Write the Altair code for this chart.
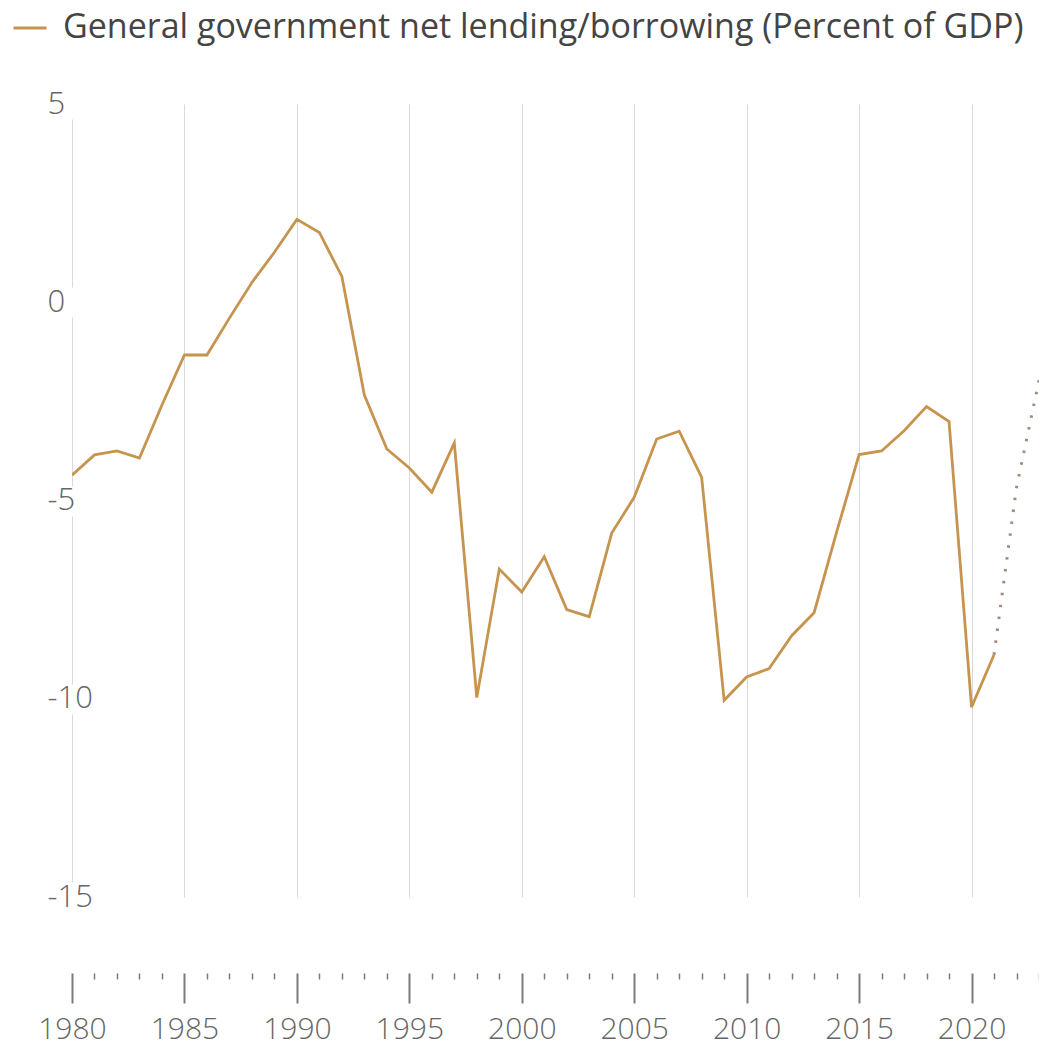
import altair as alt
import pandas as pd

SERIES = "General government net lending/borrowing (Percent of GDP)"

years = list(range(1980, 2022))
values = [
    -4.36, -3.85, -3.75, -3.93, -2.59, -1.33, -1.33, -0.40, 0.50, 1.26,
    2.09, 1.76, 0.65, -2.34, -3.70, -4.18, -4.79, -3.55, -9.97, -6.73,
    -7.31, -6.42, -7.75, -7.93, -5.82, -4.92, -3.45, -3.25, -4.42, -10.04,
    -9.45, -9.24, -8.41, -7.83, -5.80, -3.84, -3.75, -3.24, -2.63, -3.01,
    -10.21, -8.89,
]
proj_years = [2021, 2022, 2023]
proj_values = [-8.89, -4.67, -1.97]

x_ticks = list(range(1980, 2024))
y_ticks = [-15, -10, -5, 0, 5]

LINE = "#C6944F"
DOTS = "#A08A78"
FONT = "Open Sans"

hist = pd.DataFrame({"year": years, "value": values, "series": SERIES})
proj = pd.DataFrame({"year": proj_years, "value": proj_values})

x_scale = alt.Scale(domain=[1980, 2023], nice=False, zero=False)
y_scale = alt.Scale(domain=[-15, 5], nice=False, zero=False)

major = "datum.value % 5 === 0"

x_axis = alt.Axis(
    values=x_ticks,
    tickCount=len(x_ticks) + 10,
    labelExpr=f"{major} ? '' + datum.value : ''",
    orient="bottom",
    offset=76,
    domain=False,
    grid=True,
    gridColor="#d9d9d9",
    gridWidth=1,
    gridOpacity={"condition": {"test": major, "value": 1}, "value": 0},
    ticks=True,
    tickColor="#7a7a7a",
    tickWidth={"condition": {"test": major, "value": 2}, "value": 1.5},
    tickSize={"condition": {"test": major, "value": 30}, "value": 6},
    labelFont=FONT,
    labelFontSize=30,
    labelFontWeight=300,
    labelColor="#666666",
    labelPadding=11,
    labelOverlap=False,
    labelFlush=False,
    labelBaseline="top",
    title=None,
)

y_axis = alt.Axis(
    values=y_ticks,
    labelExpr="'' + datum.value",
    orient="left",
    offset=-6,
    domain=False,
    grid=False,
    ticks=True,
    tickColor="#ffffff",
    tickWidth=30,
    tickSize=30,
    labelAlign="left",
    labelBaseline="middle",
    labelPadding=1,
    labelFont=FONT,
    labelFontSize=31,
    labelFontWeight=300,
    labelColor="#666666",
    zindex=1,
    title=None,
)

main = alt.Chart(hist).mark_line(strokeWidth=2.8, clip=True).encode(
    x=alt.X("year:Q", scale=x_scale, axis=x_axis),
    y=alt.Y("value:Q", scale=y_scale, axis=y_axis),
    color=alt.Color(
        "series:N",
        scale=alt.Scale(domain=[SERIES], range=[LINE]),
        legend=alt.Legend(
            title=None,
            orient="none",
            legendX=-60,
            legendY=-94,
            symbolType="stroke",
            symbolSize=1089,
            symbolStrokeWidth=3,
            labelFont=FONT,
            labelFontSize=34,
            labelFontWeight=400,
            labelColor="#444444",
            labelLimit=0,
            labelOffset=15,
            padding=0,
        ),
    ),
)

dotted = alt.Chart(proj).mark_line(
    strokeWidth=3, strokeDash=[2.5, 9.5], clip=True
).encode(
    x=alt.X("year:Q", scale=x_scale),
    y=alt.Y("value:Q", scale=y_scale),
    color=alt.value(DOTS),
)

chart = (
    alt.layer(main, dotted)
    .properties(
        width=967,
        height=793,
        autosize=alt.AutoSizeParams(type="none"),
        padding={"left": 72, "top": 104, "right": 0, "bottom": 148},
        background="#ffffff",
    )
    .configure_view(stroke=None)
)

chart.save("out.html", embed_options={"renderer": "svg", "actions": False})
